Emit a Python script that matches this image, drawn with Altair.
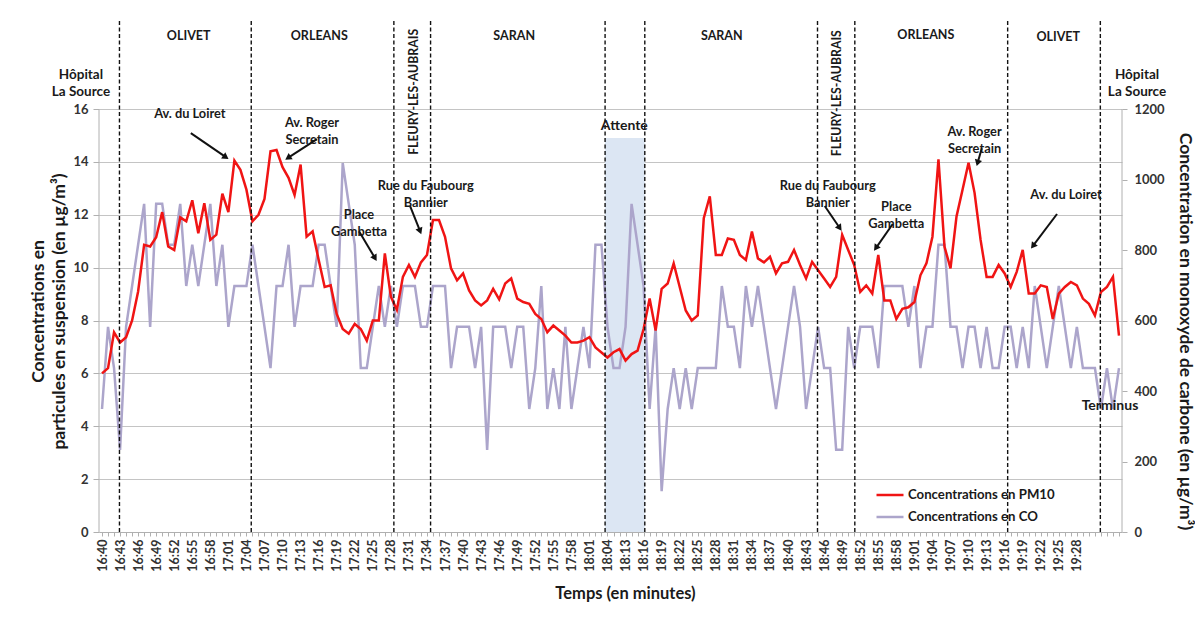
import json
import math
import altair as alt
import pandas as pd

# ---------------- data ----------------
pm10 = [6.0, 6.2, 7.55, 7.17, 7.37, 8.0, 9.1, 10.86, 10.8, 11.15,
        12.1, 10.8, 10.67, 11.9, 11.75, 12.55, 11.3, 12.44, 11.05, 11.25,
        12.8, 12.1, 14.05, 13.7, 12.95, 11.75, 12.0, 12.6, 14.4, 14.45,
        13.8, 13.4, 12.75, 13.9, 11.17, 11.37, 10.3, 9.27, 9.33, 8.25,
        7.68, 7.5, 7.87, 7.68, 7.24, 8.0, 8.0, 10.54, 8.9, 8.4,
        9.65, 10.1, 9.65, 10.2, 10.48, 11.8, 11.8, 11.17, 9.97, 9.52,
        9.78, 9.14, 8.76, 8.57, 8.76, 9.2, 8.8, 9.4, 9.59, 8.83,
        8.7, 8.63, 8.25, 8.06, 7.56, 7.81, 7.62, 7.43, 7.17, 7.17,
        7.24, 7.37, 6.98, 6.79, 6.6, 6.8, 6.92, 6.48, 6.73, 6.86,
        7.68, 8.83, 7.62, 9.2, 9.4, 10.16, 9.27, 8.38, 8.0, 8.19,
        11.87, 12.7, 10.48, 10.48, 11.1, 11.05, 10.48, 10.29, 11.37, 10.35,
        10.2, 10.41, 9.78, 10.16, 10.22, 10.67, 10.1, 9.59, 10.22, 9.9,
        9.59, 9.27, 9.65, 11.24, 10.67, 10.1, 9.08, 9.33, 9.02, 10.48,
        8.76, 8.76, 8.06, 8.44, 8.5, 8.7, 9.71, 10.16, 11.17, 14.1,
        10.8, 9.97, 11.94, 12.95, 13.97, 12.83, 11.05, 9.65, 9.65, 10.1,
        9.78, 9.27, 9.84, 10.67, 9.02, 9.02, 9.33, 9.27, 8.06, 9.02,
        9.27, 9.46, 9.33, 8.83, 8.63, 8.19, 9.08, 9.27, 9.65, 7.43]

co = [349, 582, 465, 233, 582, 698, 815, 931, 582, 931,
      931, 815, 815, 931, 698, 815, 698, 815, 931, 698,
      815, 582, 698, 698, 698, 815, 698, 582, 465, 698,
      698, 815, 582, 698, 698, 698, 815, 815, 698, 582,
      1047, 931, 815, 465, 465, 582, 698, 582, 698, 582,
      698, 698, 698, 582, 582, 698, 698, 698, 465, 582,
      582, 582, 465, 582, 233, 582, 582, 582, 465, 582,
      582, 349, 465, 698, 349, 465, 349, 582, 349, 465,
      582, 465, 815, 815, 582, 465, 465, 582, 931, 815,
      698, 349, 582, 116, 349, 465, 349, 465, 349, 465,
      465, 465, 465, 698, 582, 582, 465, 698, 582, 698,
      582, 465, 349, 465, 582, 698, 582, 349, 465, 582,
      465, 465, 233, 233, 582, 465, 582, 582, 582, 465,
      698, 698, 698, 698, 582, 698, 465, 582, 582, 815,
      815, 582, 582, 465, 582, 582, 465, 582, 465, 465,
      582, 582, 465, 582, 465, 698, 582, 465, 582, 698,
      582, 465, 582, 465, 465, 465, 349, 465, 349, 465]

tick_labels = ["16:40", "16:43", "16:46", "16:49", "16:52", "16:55", "16:58",
               "17:01", "17:04", "17:07", "17:10", "17:13", "17:16", "17:19",
               "17:22", "17:25", "17:28", "17:31", "17:34", "17:37", "17:40",
               "17:43", "17:46", "17:49", "17:52", "17:55", "17:58", "18:01",
               "18:04", "18:13", "18:16", "18:19", "18:22", "18:25", "18:28",
               "18:31", "18:34", "18:37", "18:40", "18:43", "18:46", "18:49",
               "18:52", "18:55", "18:58", "19:01", "19:04", "19:07", "19:10",
               "19:13", "19:16", "19:19", "19:22", "19:25", "19:28"]

series_names = ["Concentrations en PM10", "Concentrations en CO"]

zone_lines = [2.9, 24.8, 48.5, 54.6, 83.6, 90.2, 118.9, 125.1, 150.5, 165.9]
wait_start, wait_end, wait_top = 83.6, 90.2, 14.9

zone_names = ["OLIVET", "ORLEANS", "SARAN", "SARAN", "ORLEANS", "OLIVET"]
zone_x = [14.4, 36.1, 68.5, 103.0, 136.9, 158.9]
zone_y = [18.76, 18.76, 18.76, 18.76, 18.8, 18.72]

vert_names = ["FLEURY-LES-AUBRAIS", "FLEURY-LES-AUBRAIS"]
vert_x = [51.9, 122.2]
vert_y = [16.65, 16.6]

end_names = ["Hôpital\nLa Source", "Hôpital\nLa Source"]
end_x = [-3.5, 172.0]
end_y = [17.3, 17.3]

note_texts = ["Av. du Loiret", "Av. Roger\nSecretain", "Place\nGambetta",
              "Rue du Faubourg\nBannier", "Rue du Faubourg\nBannier",
              "Place\nGambetta", "Av. Roger\nSecretain", "Av. du Loiret"]
note_x = [14.6, 34.9, 42.7, 53.8, 120.6, 132.0, 145.0, 160.2]
note_y = [15.81, 15.49, 12.01, 13.1, 13.07, 12.29, 15.15, 12.75]

arrow_tail_x = [14.76, 35.72, 42.71, 51.2, 120.1, 131.4, 146.2, 158.7]
arrow_tail_y = [15.09, 14.86, 11.38, 12.33, 12.33, 11.65, 14.52, 12.03]
arrow_head_x = [20.58, 30.9, 45.37, 52.86, 122.6, 128.6, 145.5, 154.7]
arrow_head_y = [14.18, 14.15, 10.36, 11.38, 11.5, 10.74, 13.96, 10.82]

misc_texts = ["Attente", "Terminus"]
misc_x = [86.8, 167.5]
misc_y = [15.36, 4.77]

# ---------------- layout / style ----------------
W, H = 1023, 511
X_MIN, X_MAX = -0.5, len(pm10) - 0.5
YMAX = 19.33
CO_RATIO = 75.0
RED = "#f01414"
LAV = "#aca5cb"
GRID = "#c4c4c4"
FONT = "Lato"
TXT = "#1a1a1a"

px_x = W / (X_MAX - X_MIN)
px_y = H / YMAX

xscale = alt.Scale(domain=[X_MIN, X_MAX], nice=False, zero=False)
yscale = alt.Scale(domain=[0, YMAX], nice=False, zero=False)
coscale = alt.Scale(domain=[0, YMAX * CO_RATIO], nice=False, zero=False)

idx = list(range(len(pm10)))
pm_df = pd.DataFrame({"i": idx, "v": pm10, "s": series_names[0]})
co_df = pd.DataFrame({"i": idx, "v": co, "s": series_names[1]})

color = alt.Color(
    "s:N",
    scale=alt.Scale(domain=series_names, range=[RED, LAV]),
    legend=alt.Legend(orient="none", legendX=776, legendY=459, title=None,
                      symbolType="stroke", symbolStrokeWidth=2.5, symbolSize=729,
                      labelFont=FONT, labelFontSize=13.2, labelFontWeight="bold",
                      labelColor=TXT, rowPadding=-6, labelOffset=3, padding=0),
)

last_labeled = 3 * (len(tick_labels) - 1)
label_expr = ("datum.value % 3 === 0 && datum.value <= " + str(last_labeled)
              + " ? " + json.dumps(tick_labels) + "[datum.value / 3] : ''")

x_axis = alt.Axis(values=idx, labelExpr=label_expr, labelAngle=270,
                  labelAlign="right", labelBaseline="middle", labelOverlap=False,
                  labelFont=FONT, labelFontSize=12.5, labelFontWeight="bold",
                  labelColor="#333333", labelPadding=3, grid=False,
                  tickSize=4, tickColor="#b0b0b0", domainColor="#b0b0b0",
                  title="Temps (en minutes)", titleFont=FONT, titleFontSize=16.5,
                  titleFontWeight="bold", titleColor=TXT, titlePadding=14,
                  titleX=526)

y_left_axis = alt.Axis(orient="left", values=list(range(0, 17, 2)), grid=True,
                       gridColor=GRID, gridWidth=1.2, domain=False, tickSize=6,
                       tickColor="#b0b0b0", labelFont=FONT, labelFontSize=13,
                       labelFontWeight="bold", labelColor="#333333", labelPadding=5,
                       title=["Concentrations en", "particules en suspension (en µg/m³)"],
                       titleFont=FONT, titleFontSize=17.5, titleFontWeight="bold",
                       titleColor=TXT, titleAngle=270, titleAlign="center",
                       titleBaseline="middle", titleLineHeight=21,
                       titleX=-61, titleY=290)

y_right_axis = alt.Axis(orient="right", values=list(range(0, 1201, 200)), grid=False,
                        format="d", domain=False, tickSize=5, tickColor="#b0b0b0",
                        labelFont=FONT, labelFontSize=13, labelFontWeight="bold",
                        labelColor="#333333", labelPadding=7,
                        title="Concentration en monoxyde de carbone (en µg/m³)",
                        titleFont=FONT, titleFontSize=17.5, titleFontWeight="bold",
                        titleColor=TXT, titleAngle=90, titleAlign="center",
                        titleBaseline="middle", titleX=62, titleY=310)


def X(f):
    return alt.X(f, type="quantitative", scale=xscale, axis=x_axis)


def Y(f):
    return alt.Y(f, type="quantitative", scale=yscale, axis=y_left_axis)


# waiting period shading (own y scale, same domain, no axis)
shade = alt.Chart(pd.DataFrame({"a": [wait_start], "b": [wait_end], "top": [wait_top]})).mark_rect(
    color="#dce6f3").encode(
    x=X("a"), x2="b",
    y=alt.Y("top:Q", scale=yscale, axis=None), y2=alt.datum(0))

co_line = alt.Chart(co_df).mark_line(strokeWidth=2.5).encode(
    x=X("i"), y=alt.Y("v:Q", scale=coscale, axis=y_right_axis), color=color)

pm_line = alt.Chart(pm_df).mark_line(strokeWidth=2.5).encode(
    x=X("i"), y=Y("v"), color=color)

rules = alt.Chart(pd.DataFrame({"p": zone_lines})).mark_rule(
    color="#111111", strokeWidth=1.4, strokeDash=[4, 2.5]).encode(
    x=X("p"), y=alt.datum(0), y2=alt.datum(YMAX))

axis_lines = alt.Chart(pd.DataFrame({"p": [X_MIN, X_MAX], "top": [16, 16]})).mark_rule(
    color="#b0b0b0", strokeWidth=1).encode(x=X("p"), y=Y("top"), y2=alt.datum(0))

zones = alt.Chart(pd.DataFrame({"x": zone_x, "y": zone_y, "t": zone_names})).mark_text(
    font=FONT, fontSize=12.5, fontWeight="bold", color=TXT).encode(x=X("x"), y=Y("y"), text="t:N")

verts = alt.Chart(pd.DataFrame({"x": vert_x, "y": vert_y, "t": vert_names})).mark_text(
    font=FONT, fontSize=12.3, fontWeight="bold", color=TXT, angle=270).encode(
    x=X("x"), y=Y("y"), text="t:N")

ends = alt.Chart(pd.DataFrame({"x": end_x, "y": end_y, "t": end_names})).mark_text(
    font=FONT, fontSize=13.5, fontWeight="bold", color=TXT, lineBreak="\n",
    lineHeight=17, baseline="middle").encode(x=X("x"), y=Y("y"), text="t:N")

notes = alt.Chart(pd.DataFrame({"x": note_x, "y": note_y, "t": note_texts})).mark_text(
    font=FONT, fontSize=12.8, fontWeight="bold", color=TXT, lineBreak="\n",
    lineHeight=17, baseline="middle").encode(x=X("x"), y=Y("y"), text="t:N")

misc = alt.Chart(pd.DataFrame({"x": misc_x, "y": misc_y, "t": misc_texts})).mark_text(
    font=FONT, fontSize=14, fontWeight="bold", color=TXT).encode(
    x=X("x"), y=Y("y"), text="t:N")

angles = []
for xt, yt, xh, yh in zip(arrow_tail_x, arrow_tail_y, arrow_head_x, arrow_head_y):
    angles.append(math.degrees(math.atan2((xh - xt) * px_x, (yh - yt) * px_y)) % 360)
arr_df = pd.DataFrame({"xt": arrow_tail_x, "yt": arrow_tail_y,
                       "xh": arrow_head_x, "yh": arrow_head_y, "ang": angles})

shafts = alt.Chart(arr_df).mark_rule(color="#111111", strokeWidth=2).encode(
    x=X("xt"), y=Y("yt"), x2="xh", y2="yh")
heads = alt.Chart(arr_df).mark_point(shape="triangle-up", filled=True, color="#111111",
                                     size=55, opacity=1).encode(
    x=X("xh"), y=Y("yh"), angle=alt.Angle("ang:Q", scale=None))

left_group = alt.layer(pm_line, rules, axis_lines, zones, verts, ends, notes, misc,
                       shafts, heads)

chart = alt.layer(shade, co_line, left_group).resolve_scale(y="independent").properties(
    width=W, height=H, padding={"left": 21, "top": 12, "right": 2, "bottom": 5},
    background="white",
).configure_view(stroke=None)

chart.save("out.html", embed_options={"renderer": "svg", "actions": False})
